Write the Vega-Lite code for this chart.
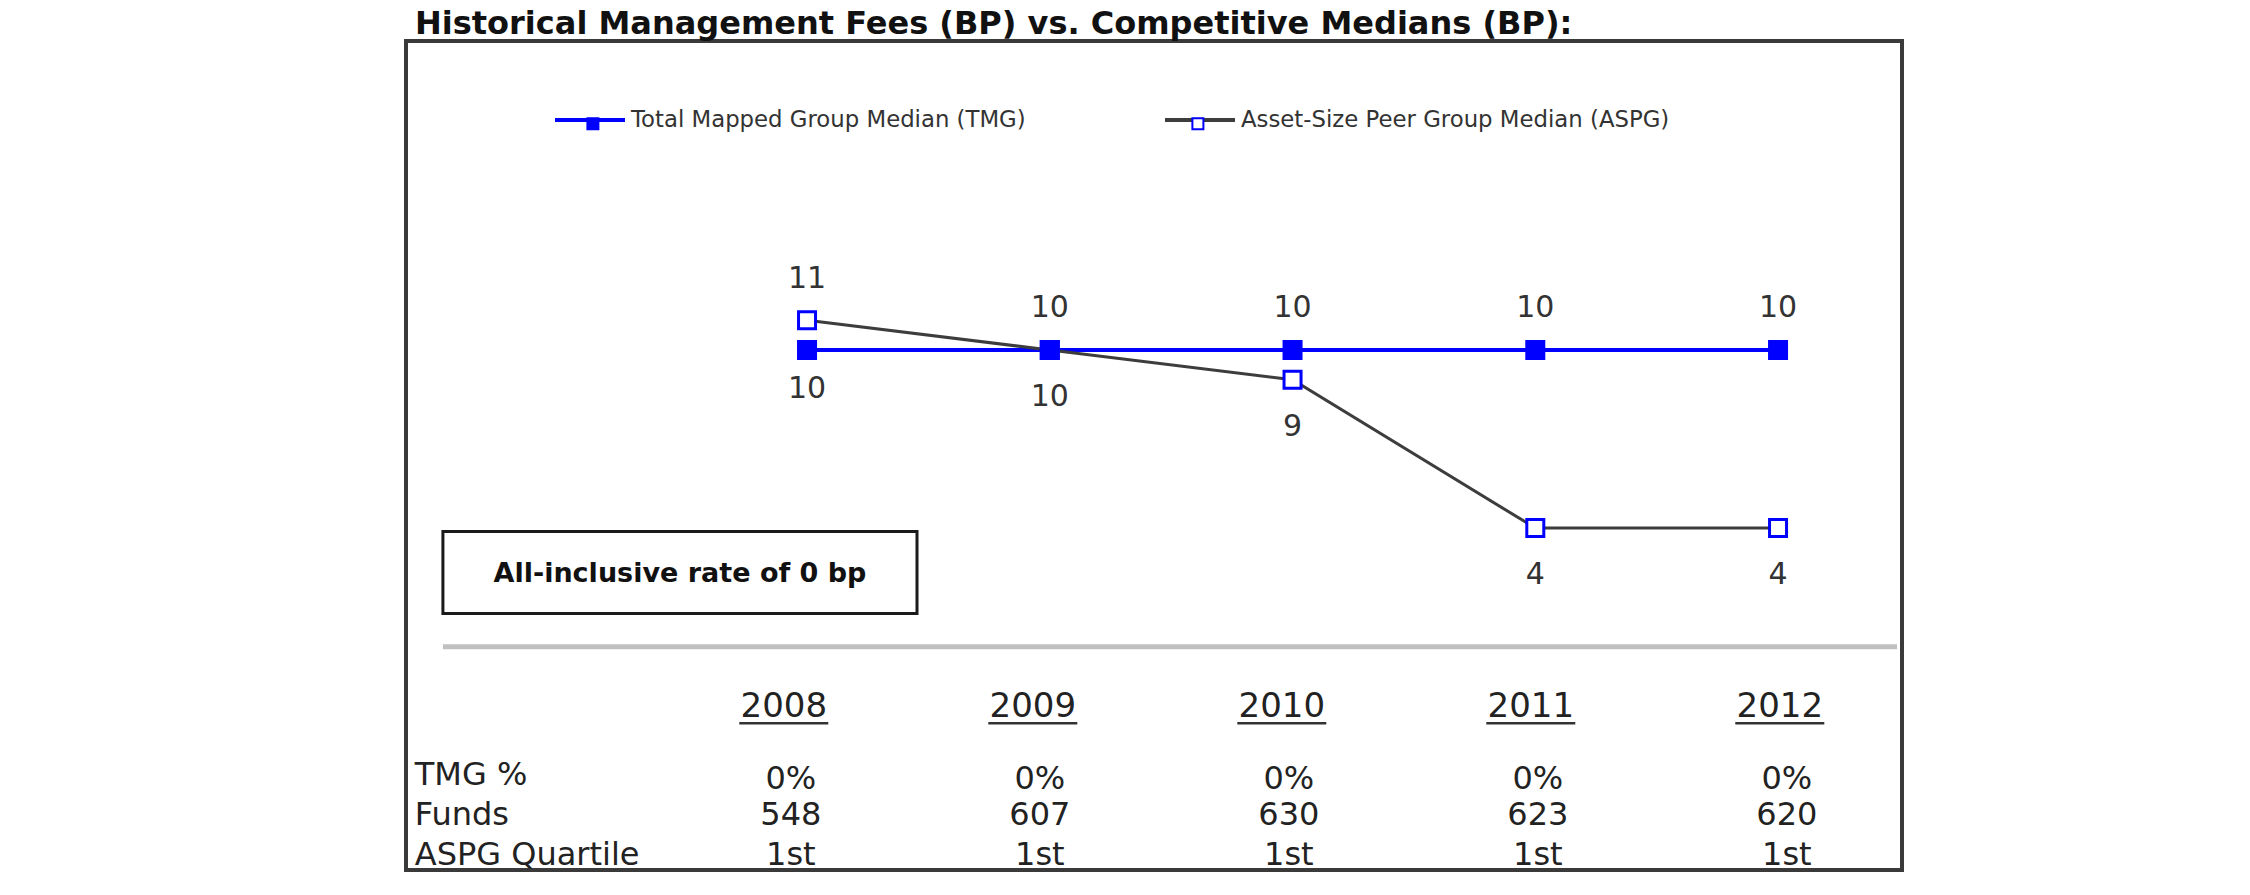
{
  "$schema": "https://vega.github.io/schema/vega-lite/v6.json",
  "width": 1496,
  "height": 829,
  "autosize": "none",
  "padding": {"left": 406, "top": 41, "right": 348, "bottom": 25},
  "background": "white",
  "config": {"view": {"stroke": "#3a3a3a", "strokeWidth": 4}, "font": "DejaVu Sans"},
  "title": {"text": "Historical Management Fees (BP) vs. Competitive Medians (BP):", "anchor": "start", "frame": "group", "font": "DejaVu Sans", "fontSize": 32, "fontWeight": "bold", "color": "#111111", "dx": 9, "dy": 5, "offset": 5},
  "datasets": {
    "medians": [
      {"year": 2008, "TMG": 10, "ASPG": 11},
      {"year": 2009, "TMG": 10, "ASPG": 10},
      {"year": 2010, "TMG": 10, "ASPG": 9},
      {"year": 2011, "TMG": 10, "ASPG": 4},
      {"year": 2012, "TMG": 10, "ASPG": 4}
    ],
    "rowLabels": [
      {"row": "TMG %"},
      {"row": "Funds"},
      {"row": "ASPG Quartile"}
    ],
    "table": [
      {"year": 2008, "row": "Year", "value": "2008"},
      {"year": 2009, "row": "Year", "value": "2009"},
      {"year": 2010, "row": "Year", "value": "2010"},
      {"year": 2011, "row": "Year", "value": "2011"},
      {"year": 2012, "row": "Year", "value": "2012"},
      {"year": 2008, "row": "TMG %", "value": "0%"},
      {"year": 2009, "row": "TMG %", "value": "0%"},
      {"year": 2010, "row": "TMG %", "value": "0%"},
      {"year": 2011, "row": "TMG %", "value": "0%"},
      {"year": 2012, "row": "TMG %", "value": "0%"},
      {"year": 2008, "row": "Funds", "value": "548"},
      {"year": 2009, "row": "Funds", "value": "607"},
      {"year": 2010, "row": "Funds", "value": "630"},
      {"year": 2011, "row": "Funds", "value": "623"},
      {"year": 2012, "row": "Funds", "value": "620"},
      {"year": 2008, "row": "ASPG Quartile", "value": "1st"},
      {"year": 2009, "row": "ASPG Quartile", "value": "1st"},
      {"year": 2010, "row": "ASPG Quartile", "value": "1st"},
      {"year": 2011, "row": "ASPG Quartile", "value": "1st"},
      {"year": 2012, "row": "ASPG Quartile", "value": "1st"}
    ]
  },
  "layer": [
    {
      "layer": [
        {
          "data": {"values": [{"from": 2006.5, "to": 2012.49, "level": 0}]},
          "mark": {"type": "rule", "color": "#c0c0c0", "strokeWidth": 5},
          "encoding": {
            "x": {"field": "from", "type": "quantitative", "scale": {"domain": [2008, 2012], "range": [401.04, 1372.04], "nice": false, "zero": false}, "axis": null},
            "x2": {"field": "to"},
            "y": {"field": "level", "type": "quantitative", "scale": {"domain": [0, 10], "range": [605.7, 309], "nice": false, "zero": false}, "axis": null}
          }
        },
        {
          "data": {"values": [{"x0": 2006.5, "x1": 2008.453, "y0": 1.119, "y1": 3.883}]},
          "mark": {"type": "rect", "fill": "white", "stroke": "#1a1a1a", "strokeWidth": 3},
          "encoding": {
            "x": {"field": "x0", "type": "quantitative", "scale": {"domain": [2008, 2012], "range": [401.04, 1372.04], "nice": false, "zero": false}, "axis": null},
            "x2": {"field": "x1"},
            "y": {"field": "y0", "type": "quantitative", "scale": {"domain": [0, 10], "range": [605.7, 309], "nice": false, "zero": false}, "axis": null},
            "y2": {"field": "y1"}
          }
        },
        {
          "data": {"values": [{"xc": 2007.4766, "yc": 2.45, "note": "All-inclusive rate of 0 bp"}]},
          "mark": {"type": "text", "fontSize": 27, "fontWeight": "bold", "color": "#111111", "baseline": "middle", "align": "center"},
          "encoding": {
            "x": {"field": "xc", "type": "quantitative", "scale": {"domain": [2008, 2012], "range": [401.04, 1372.04], "nice": false, "zero": false}, "axis": null},
            "y": {"field": "yc", "type": "quantitative", "scale": {"domain": [0, 10], "range": [605.7, 309], "nice": false, "zero": false}, "axis": null},
            "text": {"field": "note"}
          }
        },
        {
          "data": {"name": "medians"},
          "transform": [{"fold": ["TMG", "ASPG"], "as": ["key", "value"]}, {"filter": "datum.key == 'TMG'"}],
          "mark": {"type": "line", "strokeWidth": 4},
          "encoding": {
            "x": {"field": "year", "type": "quantitative", "scale": {"domain": [2008, 2012], "range": [401.04, 1372.04], "nice": false, "zero": false}, "axis": null},
            "y": {"field": "value", "type": "quantitative", "scale": {"domain": [0, 10], "range": [605.7, 309], "nice": false, "zero": false}, "axis": null},
            "stroke": {"field": "key", "type": "nominal", "scale": {"domain": ["TMG", "ASPG"], "range": ["#0000ff", "#3d3d3d"]},
              "legend": {"orient": "none", "legendX": 147, "legendY": 42, "direction": "horizontal", "title": null, "symbolType": "stroke", "symbolSize": 4900, "symbolStrokeWidth": 4, "labelFont": "DejaVu Sans", "labelFontSize": 22.8, "labelColor": "#333333", "labelOffset": 4, "columnPadding": 131, "labelLimit": 0,
                "labelExpr": "datum.label == 'TMG' ? 'Total Mapped Group Median (TMG)' : 'Asset-Size Peer Group Median (ASPG)'"}}
          }
        },
        {
          "data": {"name": "medians"},
          "transform": [{"fold": ["TMG", "ASPG"], "as": ["key", "value"]}, {"filter": "datum.key == 'ASPG'"}],
          "mark": {"type": "line", "strokeWidth": 3},
          "encoding": {
            "x": {"field": "year", "type": "quantitative", "scale": {"domain": [2008, 2012], "range": [401.04, 1372.04], "nice": false, "zero": false}, "axis": null},
            "y": {"field": "value", "type": "quantitative", "scale": {"domain": [0, 10], "range": [605.7, 309], "nice": false, "zero": false}, "axis": null},
            "stroke": {"field": "key", "type": "nominal", "scale": {"domain": ["TMG", "ASPG"], "range": ["#0000ff", "#3d3d3d"]}, "legend": null}
          }
        },
        {
          "data": {"name": "medians"},
          "transform": [{"fold": ["TMG", "ASPG"], "as": ["key", "value"]}],
          "mark": {"type": "point", "shape": "square", "filled": true, "size": 289, "stroke": "#0000ff", "strokeWidth": 3, "opacity": 1},
          "encoding": {
            "x": {"field": "year", "type": "quantitative", "scale": {"domain": [2008, 2012], "range": [401.04, 1372.04], "nice": false, "zero": false}, "axis": null},
            "y": {"field": "value", "type": "quantitative", "scale": {"domain": [0, 10], "range": [605.7, 309], "nice": false, "zero": false}, "axis": null},
            "order": {"field": "key", "sort": "ascending"},
            "fill": {"field": "key", "type": "nominal", "sort": null, "scale": {"range": ["#0000ff", "#ffffff"]},
              "legend": {"orient": "none", "legendX": 175.5, "legendY": 71, "direction": "horizontal", "title": null, "symbolType": "square", "symbolSize": 121, "symbolStrokeColor": "#0000ff", "symbolStrokeWidth": 2, "symbolOpacity": 1, "labelFont": "DejaVu Sans", "labelFontSize": 22.8, "labelOffset": 0, "columnPadding": 582, "labelLimit": 0,
                "labelExpr": "''",
                "encode": {"symbols": {"update": {"stroke": {"value": "#0000ff"}, "strokeWidth": {"value": 2}}}}}}
          }
        },
        {
          "data": {"name": "medians"},
          "transform": [{"filter": "datum.TMG >= datum.ASPG"}],
          "mark": {"type": "text", "fontSize": 30, "color": "#333333", "baseline": "middle", "dy": -42},
          "encoding": {
            "x": {"field": "year", "type": "quantitative", "scale": {"domain": [2008, 2012], "range": [401.04, 1372.04], "nice": false, "zero": false}, "axis": null},
            "y": {"field": "TMG", "type": "quantitative", "scale": {"domain": [0, 10], "range": [605.7, 309], "nice": false, "zero": false}, "axis": null},
            "text": {"field": "TMG"}
          }
        },
        {
          "data": {"name": "medians"},
          "transform": [{"filter": "datum.TMG < datum.ASPG"}],
          "mark": {"type": "text", "fontSize": 30, "color": "#333333", "baseline": "middle", "dy": 39},
          "encoding": {
            "x": {"field": "year", "type": "quantitative", "scale": {"domain": [2008, 2012], "range": [401.04, 1372.04], "nice": false, "zero": false}, "axis": null},
            "y": {"field": "TMG", "type": "quantitative", "scale": {"domain": [0, 10], "range": [605.7, 309], "nice": false, "zero": false}, "axis": null},
            "text": {"field": "TMG"}
          }
        },
        {
          "data": {"name": "medians"},
          "transform": [{"filter": "datum.ASPG > datum.TMG"}],
          "mark": {"type": "text", "fontSize": 30, "color": "#333333", "baseline": "middle", "dy": -41},
          "encoding": {
            "x": {"field": "year", "type": "quantitative", "scale": {"domain": [2008, 2012], "range": [401.04, 1372.04], "nice": false, "zero": false}, "axis": null},
            "y": {"field": "ASPG", "type": "quantitative", "scale": {"domain": [0, 10], "range": [605.7, 309], "nice": false, "zero": false}, "axis": null},
            "text": {"field": "ASPG"}
          }
        },
        {
          "data": {"name": "medians"},
          "transform": [{"filter": "datum.ASPG <= datum.TMG"}],
          "mark": {"type": "text", "fontSize": 30, "color": "#333333", "baseline": "middle", "dy": 47},
          "encoding": {
            "x": {"field": "year", "type": "quantitative", "scale": {"domain": [2008, 2012], "range": [401.04, 1372.04], "nice": false, "zero": false}, "axis": null},
            "y": {"field": "ASPG", "type": "quantitative", "scale": {"domain": [0, 10], "range": [605.7, 309], "nice": false, "zero": false}, "axis": null},
            "text": {"field": "ASPG"}
          }
        }
      ]
    },
    {
      "layer": [
        {
          "data": {"name": "table"},
          "transform": [{"filter": "datum.row == 'Year'"}],
          "mark": {"type": "text", "fontSize": 34, "color": "#222222", "baseline": "middle", "dy": -27, "dx": -7},
          "encoding": {
            "x": {"field": "year", "type": "quantitative", "scale": {"domain": [2008, 2012], "range": [384.8, 1380.8], "nice": false, "zero": false}, "axis": null},
            "y": {"field": "row", "type": "nominal", "scale": {"type": "point", "domain": ["Year", "TMG %", "Funds", "ASPG Quartile"], "range": [693.25, 814], "padding": 0}, "axis": null},
            "text": {"field": "value"}
          }
        },
        {
          "data": {"name": "table"},
          "transform": [{"filter": "datum.row == 'Year'"}],
          "mark": {"type": "tick", "orient": "horizontal", "size": 89, "thickness": 2.5, "color": "#333333", "opacity": 1, "yOffset": -11, "xOffset": -7},
          "encoding": {
            "x": {"field": "year", "type": "quantitative", "scale": {"domain": [2008, 2012], "range": [384.8, 1380.8], "nice": false, "zero": false}, "axis": null},
            "y": {"field": "row", "type": "nominal", "scale": {"type": "point", "domain": ["Year", "TMG %", "Funds", "ASPG Quartile"], "range": [693.25, 814], "padding": 0}, "axis": null}
          }
        },
        {
          "data": {"name": "rowLabels"},
          "mark": {"type": "text", "fontSize": 32, "color": "#222222", "baseline": "middle", "align": "left"},
          "encoding": {
            "x": {"datum": 2006.49, "type": "quantitative", "scale": {"domain": [2008, 2012], "range": [384.8, 1380.8], "nice": false, "zero": false}, "axis": null},
            "y": {"field": "row", "type": "nominal", "scale": {"type": "point", "domain": ["Year", "TMG %", "Funds", "ASPG Quartile"], "range": [693.25, 814], "padding": 0}, "axis": null},
            "text": {"field": "row"}
          }
        },
        {
          "data": {"name": "table"},
          "transform": [{"filter": "datum.row == 'TMG %'"}],
          "mark": {"type": "text", "fontSize": 32, "color": "#222222", "baseline": "middle", "dy": 4},
          "encoding": {
            "x": {"field": "year", "type": "quantitative", "scale": {"domain": [2008, 2012], "range": [384.8, 1380.8], "nice": false, "zero": false}, "axis": null},
            "y": {"field": "row", "type": "nominal", "scale": {"type": "point", "domain": ["Year", "TMG %", "Funds", "ASPG Quartile"], "range": [693.25, 814], "padding": 0}, "axis": null},
            "text": {"field": "value"}
          }
        },
        {
          "data": {"name": "table"},
          "transform": [{"filter": "datum.row == 'Funds' || datum.row == 'ASPG Quartile'"}],
          "mark": {"type": "text", "fontSize": 32, "color": "#222222", "baseline": "middle"},
          "encoding": {
            "x": {"field": "year", "type": "quantitative", "scale": {"domain": [2008, 2012], "range": [384.8, 1380.8], "nice": false, "zero": false}, "axis": null},
            "y": {"field": "row", "type": "nominal", "scale": {"type": "point", "domain": ["Year", "TMG %", "Funds", "ASPG Quartile"], "range": [693.25, 814], "padding": 0}, "axis": null},
            "text": {"field": "value"}
          }
        }
      ]
    }
  ],
  "resolve": {"scale": {"x": "independent", "y": "independent"}}
}
